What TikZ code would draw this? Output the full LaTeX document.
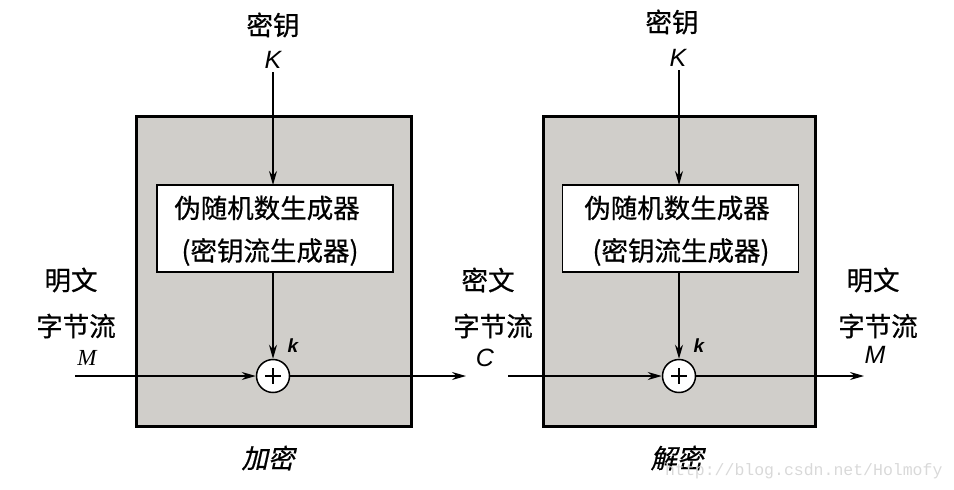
\documentclass[tikz,border=0pt]{standalone}
\usepackage{fontspec}
\setmainfont{Liberation Sans}
\newfontfamily\cjk[FakeBold=0.6]{Noto Sans CJK SC}
\newfontfamily\cjkit[FakeSlant=0.22,FakeBold=0.6]{Noto Sans CJK SC}
\newfontfamily\serifit{Liberation Serif}
\newfontfamily\monof{Liberation Mono}
\usetikzlibrary{arrows.meta}
\definecolor{boxgray}{RGB}{208,206,202}
\begin{document}
\begin{tikzpicture}[x=1pt,y=-1pt,
  outer/.style={draw=black,line width=3pt,fill=boxgray},
  gen/.style={draw=black,line width=1.3pt,fill=white,minimum width=236pt,minimum height=87pt,inner sep=0pt},
  xorc/.style={circle,draw=black,line width=1.5pt,fill=white,minimum size=33pt,inner sep=0pt},
  conn/.style={line width=1.3pt,-{Stealth[length=14pt,width=8pt]}},
  cn/.style={font=\cjk\fontsize{26.5}{30}\selectfont,inner sep=0pt},
  cnit/.style={font=\cjkit\fontsize{26.5}{30}\selectfont,inner sep=0pt},
  lat/.style={font=\itshape\fontsize{25}{28}\selectfont,inner sep=0pt},
  kl/.style={font=\bfseries\itshape\fontsize{19}{22}\selectfont,inner sep=0pt}]
\useasboundingbox (0,0) rectangle (954,490);
% outer boxes
\path[outer] (136,116) rectangle (411,426);
\path[outer] (543,116) rectangle (815,426);
% left
\node[cn] (k1t) at (273,25) {密钥};
\node[lat] (k1) at (273,60) {K};
\node[gen] (g1) at (275,228.5) {};
\node[cn] at (267,208) {伪随机数生成器};
\node[cn] at (270,252) {(密钥流生成器)};
\node[xorc] (x1) at (273,376) {};
\draw[line width=1.5pt] (x1.center) ++(-8,0) -- ++(16,0) (x1.center) ++(0,-8) -- ++(0,16);
\node[kl] at (293,346) {k};
\node[cn] (p1a) at (71,280) {明文};
\node[cn] (p1b) at (76,326) {字节流};
\node[font=\serifit\itshape\fontsize{23}{26}\selectfont,inner sep=0pt] (m1) at (87,358) {M};
\coordinate (in1) at (75,376);
\coordinate (out1) at (466,376);
\node[cnit] at (268,458) {加密};
\draw[conn] (273,72) -- (273,185);
\draw[conn] (273,272) -- (x1.north);
\draw[conn] (in1) -- (x1.west);
\draw[conn] (x1.east) -- (out1);
% right
\node[cn] (k2t) at (672,22) {密钥};
\node[lat] (k2) at (678,58) {K};
\node[gen] (g2) at (680.5,228.5) {};
\node[cn] at (677,208) {伪随机数生成器};
\node[cn] at (681,252) {(密钥流生成器)};
\node[xorc] (x2) at (679,376) {};
\draw[line width=1.5pt] (x2.center) ++(-8,0) -- ++(16,0) (x2.center) ++(0,-8) -- ++(0,16);
\node[kl] at (699,346) {k};
\node[cn] (c2a) at (488,280) {密文};
\node[cn] (c2b) at (493,326) {字节流};
\node[lat] (c2) at (485,358) {C};
\node[cn] (p2a) at (873,280) {明文};
\node[cn] (p2b) at (878,326) {字节流};
\node[lat] (m2) at (875,355) {M};
\coordinate (in2) at (508,376);
\coordinate (out2) at (864,376);
\node[cnit] at (677,458) {解密};
\draw[conn] (679,70) -- (679,185);
\draw[conn] (679,272) -- (x2.north);
\draw[conn] (in2) -- (x2.west);
\draw[conn] (x2.east) -- (out2);
% watermark
\node[font=\monof\fontsize{16.5}{20}\selectfont,text=black!15,inner sep=0pt,anchor=west] at (665,471) {http://blog.csdn.net/Holmofy};
\end{tikzpicture}
\end{document}
